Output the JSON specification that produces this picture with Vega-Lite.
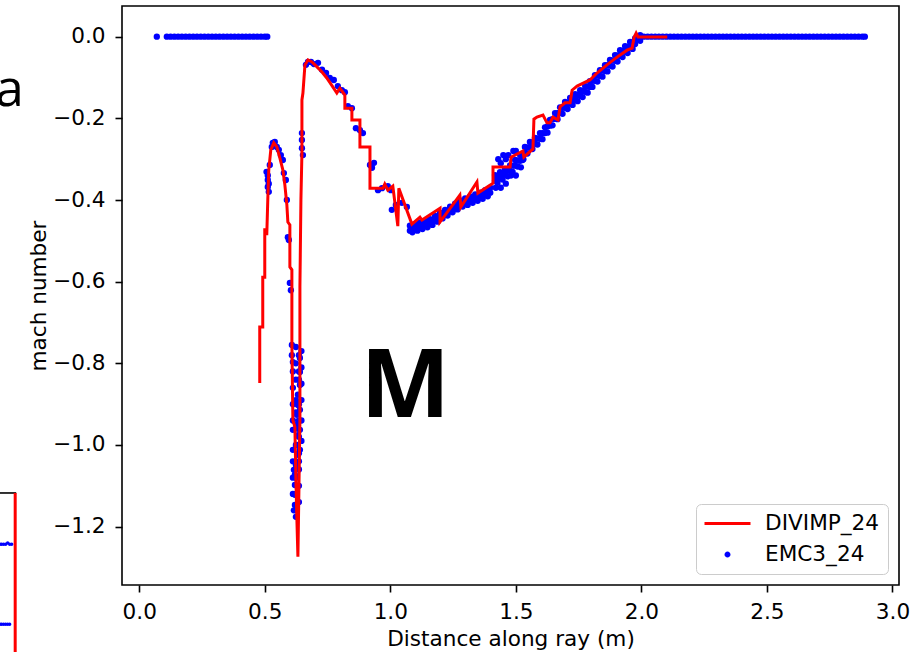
{
 "$schema": "https://vega.github.io/schema/vega-lite/v6.json",
 "width": 777, "height": 579,
 "autosize": {"type": "none"},
 "padding": {"left": 122, "top": 6, "right": 18, "bottom": 67},
 "background": "white",
 "config": {"view": {"stroke": "#000000", "strokeWidth": 1.6}, "font": "DejaVu Sans"},
 "datasets": {
  "emc3": [
   {"x":0.07,"y":0},{"x":0.11,"y":0},{"x":0.125,"y":0},{"x":0.14,"y":0},{"x":0.155,"y":0},{"x":0.17,"y":0},{"x":0.185,"y":0},{"x":0.2,"y":0},{"x":0.215,"y":0},{"x":0.23,"y":0},{"x":0.245,"y":0},{"x":0.26,"y":0},{"x":0.275,"y":0},{"x":0.29,"y":0},{"x":0.305,"y":0},{"x":0.32,"y":0},{"x":0.335,"y":0},{"x":0.35,"y":0},{"x":0.365,"y":0},{"x":0.38,"y":0},{"x":0.395,"y":0},{"x":0.41,"y":0},{"x":0.425,"y":0},{"x":0.44,"y":0},{"x":0.455,"y":0},{"x":0.47,"y":0},{"x":0.485,"y":0},{"x":0.5,"y":0},{"x":0.51,"y":0},
   {"x":0.507,"y":-0.331},{"x":0.512,"y":-0.34},{"x":0.512,"y":-0.351},{"x":0.516,"y":-0.36},{"x":0.512,"y":-0.368},{"x":0.516,"y":-0.38},{"x":0.52,"y":-0.314},{"x":0.528,"y":-0.27},{"x":0.532,"y":-0.26},{"x":0.54,"y":-0.258},{"x":0.548,"y":-0.27},{"x":0.556,"y":-0.277},{"x":0.564,"y":-0.29},{"x":0.572,"y":-0.302},{"x":0.576,"y":-0.334},{"x":0.584,"y":-0.351},{"x":0.588,"y":-0.4},{"x":0.592,"y":-0.491},{"x":0.596,"y":-0.498},{"x":0.6,"y":-0.603},{"x":0.604,"y":-0.621},
   {"x":0.608,"y":-0.755},{"x":0.608,"y":-0.78},{"x":0.612,"y":-0.797},{"x":0.64,"y":-0.787},{"x":0.64,"y":-0.821},{"x":0.64,"y":-0.853},{"x":0.632,"y":-0.877},{"x":0.632,"y":-0.902},{"x":0.628,"y":-0.926},{"x":0.628,"y":-0.951},{"x":0.632,"y":-0.976},{"x":0.632,"y":-1.0},{"x":0.632,"y":-1.024},{"x":0.624,"y":-1.049},{"x":0.62,"y":-1.073},{"x":0.62,"y":-1.098},{"x":0.62,"y":-1.122},{"x":0.62,"y":-1.147},{"x":0.624,"y":-1.176},{"x":0.612,"y":-0.963},{"x":0.612,"y":-1.012},{"x":0.616,"y":-1.061},{"x":0.64,"y":-0.914},{"x":0.64,"y":-0.963},{"x":0.64,"y":-1.012},{"x":0.636,"y":-0.84},{"x":0.624,"y":-0.89},{"x":0.636,"y":-1.04},
   {"x":0.624,"y":-0.76},{"x":0.624,"y":-0.8},{"x":0.624,"y":-0.84},{"x":0.624,"y":-0.92},{"x":0.624,"y":-0.96},{"x":0.624,"y":-1.0},{"x":0.624,"y":-1.08},{"x":0.624,"y":-1.12},{"x":0.624,"y":-1.16},
   {"x":0.636,"y":-0.78},{"x":0.636,"y":-0.82},{"x":0.636,"y":-0.9},{"x":0.636,"y":-0.94},{"x":0.636,"y":-0.98},{"x":0.636,"y":-1.02},{"x":0.636,"y":-1.06},{"x":0.636,"y":-1.1},{"x":0.636,"y":-1.14},
   {"x":0.612,"y":-0.82},{"x":0.612,"y":-0.86},{"x":0.612,"y":-0.9},{"x":0.612,"y":-0.94},{"x":0.612,"y":-1.04},{"x":0.612,"y":-1.08},{"x":0.612,"y":-1.12},{"x":0.616,"y":-1.16},
   {"x":0.646,"y":-0.77},{"x":0.646,"y":-0.81},{"x":0.646,"y":-0.85},{"x":0.646,"y":-0.89},{"x":0.646,"y":-0.94},{"x":0.646,"y":-0.99},
   {"x":0.648,"y":-0.236},{"x":0.648,"y":-0.253},{"x":0.648,"y":-0.273},{"x":0.652,"y":-0.29},
   {"x":0.664,"y":-0.069},{"x":0.672,"y":-0.062},{"x":0.684,"y":-0.062},{"x":0.696,"y":-0.067},{"x":0.712,"y":-0.064},{"x":0.728,"y":-0.081},{"x":0.744,"y":-0.089},{"x":0.759,"y":-0.101},{"x":0.775,"y":-0.106},{"x":0.791,"y":-0.121},{"x":0.807,"y":-0.131},{"x":0.819,"y":-0.136},{"x":0.831,"y":-0.17},{"x":0.847,"y":-0.175},{"x":0.863,"y":-0.224},{"x":0.879,"y":-0.229},{"x":0.891,"y":-0.236},{"x":0.919,"y":-0.314},{"x":0.927,"y":-0.321},{"x":0.935,"y":-0.309},{"x":0.951,"y":-0.376},{"x":0.967,"y":-0.371},{"x":0.99,"y":-0.366},{"x":1.002,"y":-0.376},{"x":1.006,"y":-0.424},{"x":1.022,"y":-0.412},{"x":1.046,"y":-0.407},{"x":1.066,"y":-0.417},
   {"x":1.078,"y":-0.463},{"x":1.098,"y":-0.459},{"x":1.118,"y":-0.455},{"x":1.138,"y":-0.451},{"x":1.158,"y":-0.447},{"x":1.178,"y":-0.439},{"x":1.198,"y":-0.431},{"x":1.218,"y":-0.424},{"x":1.238,"y":-0.416},{"x":1.258,"y":-0.409},{"x":1.278,"y":-0.401},{"x":1.298,"y":-0.396},{"x":1.318,"y":-0.391},{"x":1.338,"y":-0.386},{"x":1.358,"y":-0.382},{"x":1.378,"y":-0.376},{"x":1.398,"y":-0.37},
   {"x":1.088,"y":-0.467},{"x":1.108,"y":-0.463},{"x":1.128,"y":-0.459},{"x":1.148,"y":-0.455},{"x":1.168,"y":-0.449},{"x":1.188,"y":-0.441},{"x":1.208,"y":-0.433},{"x":1.228,"y":-0.426},{"x":1.248,"y":-0.418},{"x":1.268,"y":-0.411},{"x":1.288,"y":-0.404},{"x":1.308,"y":-0.4},{"x":1.328,"y":-0.395},{"x":1.348,"y":-0.39},{"x":1.368,"y":-0.385},{"x":1.388,"y":-0.379},
   {"x":1.078,"y":-0.475},{"x":1.098,"y":-0.471},{"x":1.118,"y":-0.467},{"x":1.138,"y":-0.463},{"x":1.158,"y":-0.459},{"x":1.178,"y":-0.451},{"x":1.198,"y":-0.443},{"x":1.218,"y":-0.436},{"x":1.238,"y":-0.428},{"x":1.258,"y":-0.421},{"x":1.278,"y":-0.413},{"x":1.298,"y":-0.408},{"x":1.318,"y":-0.403},{"x":1.338,"y":-0.398},{"x":1.358,"y":-0.394},{"x":1.378,"y":-0.388},{"x":1.398,"y":-0.382},
   {"x":1.088,"y":-0.479},{"x":1.108,"y":-0.475},{"x":1.128,"y":-0.471},{"x":1.148,"y":-0.467},{"x":1.168,"y":-0.461},{"x":1.188,"y":-0.453},{"x":1.208,"y":-0.445},{"x":1.228,"y":-0.438},{"x":1.248,"y":-0.43},{"x":1.268,"y":-0.423},{"x":1.288,"y":-0.416},{"x":1.308,"y":-0.412},{"x":1.328,"y":-0.407},{"x":1.348,"y":-0.402},{"x":1.368,"y":-0.397},{"x":1.388,"y":-0.391},
   {"x":1.417,"y":-0.339},{"x":1.437,"y":-0.332},{"x":1.457,"y":-0.324},{"x":1.477,"y":-0.315},{"x":1.497,"y":-0.302},{"x":1.517,"y":-0.29},{"x":1.536,"y":-0.27},{"x":1.556,"y":-0.258},{"x":1.576,"y":-0.248},{"x":1.596,"y":-0.236},{"x":1.616,"y":-0.222},{"x":1.636,"y":-0.204},{"x":1.656,"y":-0.187},{"x":1.676,"y":-0.173},{"x":1.696,"y":-0.16},{"x":1.716,"y":-0.15},{"x":1.736,"y":-0.141},{"x":1.756,"y":-0.131},{"x":1.776,"y":-0.121},{"x":1.795,"y":-0.109},{"x":1.815,"y":-0.094},{"x":1.835,"y":-0.082},{"x":1.855,"y":-0.07},{"x":1.875,"y":-0.057},{"x":1.895,"y":-0.045},{"x":1.915,"y":-0.033},{"x":1.935,"y":-0.023},{"x":1.955,"y":-0.013},{"x":1.975,"y":-0.004},{"x":1.995,"y":0.004},
   {"x":1.427,"y":-0.343},{"x":1.447,"y":-0.335},{"x":1.467,"y":-0.327},{"x":1.487,"y":-0.316},{"x":1.507,"y":-0.303},{"x":1.527,"y":-0.287},{"x":1.546,"y":-0.271},{"x":1.566,"y":-0.26},{"x":1.586,"y":-0.249},{"x":1.606,"y":-0.236},{"x":1.626,"y":-0.22},{"x":1.646,"y":-0.202},{"x":1.666,"y":-0.187},{"x":1.686,"y":-0.174},{"x":1.706,"y":-0.162},{"x":1.726,"y":-0.152},{"x":1.746,"y":-0.143},{"x":1.766,"y":-0.133},{"x":1.786,"y":-0.122},{"x":1.805,"y":-0.108},{"x":1.825,"y":-0.095},{"x":1.845,"y":-0.083},{"x":1.865,"y":-0.07},{"x":1.885,"y":-0.058},{"x":1.905,"y":-0.046},{"x":1.925,"y":-0.035},{"x":1.945,"y":-0.025},{"x":1.965,"y":-0.016},{"x":1.985,"y":-0.007},
   {"x":1.417,"y":-0.353},{"x":1.437,"y":-0.346},{"x":1.457,"y":-0.338},{"x":1.477,"y":-0.329},{"x":1.497,"y":-0.316},{"x":1.517,"y":-0.304},{"x":1.536,"y":-0.284},{"x":1.556,"y":-0.272},{"x":1.576,"y":-0.262},{"x":1.596,"y":-0.25},{"x":1.616,"y":-0.236},{"x":1.636,"y":-0.218},{"x":1.656,"y":-0.201},{"x":1.676,"y":-0.187},{"x":1.696,"y":-0.174},{"x":1.716,"y":-0.164},{"x":1.736,"y":-0.155},{"x":1.756,"y":-0.145},{"x":1.776,"y":-0.135},{"x":1.795,"y":-0.123},{"x":1.815,"y":-0.108},{"x":1.835,"y":-0.096},{"x":1.855,"y":-0.084},{"x":1.875,"y":-0.071},{"x":1.895,"y":-0.059},{"x":1.915,"y":-0.047},{"x":1.935,"y":-0.037},{"x":1.955,"y":-0.027},{"x":1.975,"y":-0.018},{"x":1.995,"y":-0.01},
   {"x":1.427,"y":-0.358},{"x":1.447,"y":-0.35},{"x":1.467,"y":-0.342},{"x":1.487,"y":-0.331},{"x":1.507,"y":-0.318},{"x":1.527,"y":-0.302},{"x":1.546,"y":-0.286},{"x":1.566,"y":-0.275},{"x":1.586,"y":-0.264},{"x":1.606,"y":-0.251},{"x":1.626,"y":-0.235},{"x":1.646,"y":-0.217},{"x":1.666,"y":-0.202},{"x":1.686,"y":-0.189},{"x":1.706,"y":-0.177},{"x":1.726,"y":-0.167},{"x":1.746,"y":-0.158},{"x":1.766,"y":-0.148},{"x":1.786,"y":-0.137},{"x":1.805,"y":-0.123},{"x":1.825,"y":-0.11},{"x":1.845,"y":-0.098},{"x":1.865,"y":-0.085},{"x":1.885,"y":-0.073},{"x":1.905,"y":-0.061},{"x":1.925,"y":-0.05},{"x":1.945,"y":-0.04},{"x":1.965,"y":-0.03},
   {"x":1.43,"y":-0.3},{"x":1.45,"y":-0.29},{"x":1.47,"y":-0.29},{"x":1.49,"y":-0.28},{"x":1.44,"y":-0.37},{"x":1.46,"y":-0.36},{"x":1.5,"y":-0.34},{"x":1.42,"y":-0.37},{"x":1.44,"y":-0.31},{"x":1.48,"y":-0.34},{"x":1.52,"y":-0.32},{"x":1.5,"y":-0.28},{"x":1.53,"y":-0.3},{"x":1.46,"y":-0.3},
   {"x":2.01,"y":0},{"x":2.025,"y":0},{"x":2.04,"y":0},{"x":2.055,"y":0},{"x":2.07,"y":0},{"x":2.085,"y":0},{"x":2.1,"y":0},{"x":2.115,"y":0},{"x":2.13,"y":0},{"x":2.145,"y":0},{"x":2.16,"y":0},{"x":2.175,"y":0},{"x":2.19,"y":0},{"x":2.205,"y":0},{"x":2.22,"y":0},{"x":2.235,"y":0},{"x":2.25,"y":0},{"x":2.265,"y":0},{"x":2.28,"y":0},{"x":2.295,"y":0},{"x":2.31,"y":0},{"x":2.325,"y":0},{"x":2.34,"y":0},{"x":2.355,"y":0},{"x":2.37,"y":0},{"x":2.385,"y":0},{"x":2.4,"y":0},{"x":2.415,"y":0},{"x":2.43,"y":0},{"x":2.445,"y":0},{"x":2.46,"y":0},{"x":2.475,"y":0},{"x":2.49,"y":0},{"x":2.505,"y":0},{"x":2.52,"y":0},{"x":2.535,"y":0},{"x":2.55,"y":0},{"x":2.565,"y":0},{"x":2.58,"y":0},{"x":2.595,"y":0},{"x":2.61,"y":0},{"x":2.625,"y":0},{"x":2.64,"y":0},{"x":2.655,"y":0},{"x":2.67,"y":0},{"x":2.685,"y":0},{"x":2.7,"y":0},{"x":2.715,"y":0},{"x":2.73,"y":0},{"x":2.745,"y":0},{"x":2.76,"y":0},{"x":2.775,"y":0},{"x":2.79,"y":0},{"x":2.805,"y":0},{"x":2.82,"y":0},{"x":2.835,"y":0},{"x":2.85,"y":0},{"x":2.865,"y":0},{"x":2.88,"y":0},{"x":2.89,"y":0}
  ],
  "divimp": [
   {"i":1,"x":0.48,"y":-0.848},{"i":2,"x":0.48,"y":-0.711},{"i":3,"x":0.492,"y":-0.711},{"i":4,"x":0.492,"y":-0.589},{"i":5,"x":0.5,"y":-0.589},{"i":6,"x":0.5,"y":-0.473},{"i":7,"x":0.508,"y":-0.473},{"i":8,"x":0.508,"y":-0.486},{"i":9,"x":0.512,"y":-0.4},{"i":10,"x":0.516,"y":-0.326},{"i":11,"x":0.524,"y":-0.277},{"i":12,"x":0.536,"y":-0.26},{"i":13,"x":0.548,"y":-0.27},{"i":14,"x":0.56,"y":-0.297},{"i":15,"x":0.572,"y":-0.326},{"i":16,"x":0.58,"y":-0.363},{"i":17,"x":0.588,"y":-0.412},{"i":18,"x":0.592,"y":-0.454},{"i":19,"x":0.6,"y":-0.461},{"i":20,"x":0.6,"y":-0.564},{"i":21,"x":0.608,"y":-0.571},{"i":22,"x":0.608,"y":-0.75},{"i":23,"x":0.612,"y":-0.939},{"i":24,"x":0.62,"y":-0.956},{"i":25,"x":0.624,"y":-1.086},{"i":26,"x":0.628,"y":-1.184},{"i":27,"x":0.632,"y":-1.274},{"i":28,"x":0.636,"y":-1.11},{"i":29,"x":0.64,"y":-0.939},{"i":30,"x":0.64,"y":-0.613},{"i":31,"x":0.644,"y":-0.4},{"i":32,"x":0.648,"y":-0.285},{"i":33,"x":0.648,"y":-0.155},{"i":34,"x":0.652,"y":-0.138},{"i":35,"x":0.66,"y":-0.069},{"i":36,"x":0.672,"y":-0.057},{"i":37,"x":0.688,"y":-0.062},{"i":38,"x":0.708,"y":-0.074},{"i":39,"x":0.727,"y":-0.086},{"i":40,"x":0.747,"y":-0.101},{"i":41,"x":0.771,"y":-0.123},{"i":42,"x":0.787,"y":-0.138},{"i":43,"x":0.799,"y":-0.126},{"i":44,"x":0.819,"y":-0.143},{"i":45,"x":0.819,"y":-0.175},{"i":46,"x":0.847,"y":-0.175},{"i":47,"x":0.847,"y":-0.204},{"i":48,"x":0.879,"y":-0.204},{"i":49,"x":0.879,"y":-0.27},{"i":50,"x":0.919,"y":-0.27},{"i":51,"x":0.919,"y":-0.371},{"i":52,"x":0.971,"y":-0.371},{"i":53,"x":0.978,"y":-0.361},{"i":54,"x":0.99,"y":-0.376},{"i":55,"x":1.01,"y":-0.366},{"i":56,"x":1.03,"y":-0.464},{"i":57,"x":1.034,"y":-0.371},{"i":58,"x":1.086,"y":-0.459},{"i":59,"x":1.118,"y":-0.442},{"i":60,"x":1.126,"y":-0.449},{"i":61,"x":1.198,"y":-0.42},{"i":62,"x":1.198,"y":-0.454},{"i":63,"x":1.277,"y":-0.388},{"i":64,"x":1.281,"y":-0.417},{"i":65,"x":1.345,"y":-0.356},{"i":66,"x":1.349,"y":-0.383},{"i":67,"x":1.409,"y":-0.359},{"i":68,"x":1.409,"y":-0.319},{"i":69,"x":1.477,"y":-0.319},{"i":70,"x":1.481,"y":-0.295},{"i":71,"x":1.528,"y":-0.28},{"i":72,"x":1.532,"y":-0.295},{"i":73,"x":1.568,"y":-0.275},{"i":74,"x":1.572,"y":-0.202},{"i":75,"x":1.584,"y":-0.197},{"i":76,"x":1.608,"y":-0.192},{"i":77,"x":1.624,"y":-0.211},{"i":78,"x":1.636,"y":-0.211},{"i":79,"x":1.648,"y":-0.197},{"i":80,"x":1.668,"y":-0.204},{"i":81,"x":1.676,"y":-0.172},{"i":82,"x":1.696,"y":-0.162},{"i":83,"x":1.716,"y":-0.162},{"i":84,"x":1.724,"y":-0.131},{"i":85,"x":1.744,"y":-0.121},{"i":86,"x":1.795,"y":-0.106},{"i":87,"x":1.823,"y":-0.089},{"i":88,"x":1.863,"y":-0.069},{"i":89,"x":1.903,"y":-0.05},{"i":90,"x":1.943,"y":-0.033},{"i":91,"x":1.963,"y":-0.028},{"i":92,"x":1.971,"y":-0.001},{"i":93,"x":1.979,"y":0.009},{"i":94,"x":1.987,"y":-0.001},{"i":95,"x":2.103,"y":-0.001}
  ],
  "fragpts": [
   {"x":-0.556,"y":-1.243},{"x":-0.548,"y":-1.243},{"x":-0.54,"y":-1.243},{"x":-0.532,"y":-1.243},{"x":-0.524,"y":-1.24},{"x":-0.516,"y":-1.243},{"x":-0.508,"y":-1.243},
   {"x":-0.556,"y":-1.439},{"x":-0.548,"y":-1.439},{"x":-0.54,"y":-1.439},{"x":-0.532,"y":-1.439},{"x":-0.524,"y":-1.439},{"x":-0.516,"y":-1.439}
  ]
 },
 "layer": [
  {
   "data": {"name": "emc3"},
   "mark": {"type": "circle", "size": 40, "opacity": 1},
   "encoding": {
    "x": {"field": "x", "type": "quantitative",
     "scale": {"domain": [-0.0686, 3.026], "nice": false, "zero": false},
     "axis": {"values": [0, 0.5, 1, 1.5, 2, 2.5, 3], "format": ".1f", "title": "Distance along ray (m)", "grid": false, "domain": false,
      "tickSize": 7, "tickWidth": 1.6, "tickColor": "#000000", "labelFontSize": 21.6, "labelFont": "DejaVu Sans", "labelColor": "#000000", "labelPadding": 9,
      "labelFlush": false, "labelOverlap": false,
      "titleFont": "DejaVu Sans", "titleFontSize": 21.6, "titleFontWeight": "normal", "titleColor": "#000000", "titleBaseline": "alphabetic", "titleY": 60}},
    "y": {"field": "y", "type": "quantitative",
     "scale": {"domain": [-1.343, 0.0752], "nice": false, "zero": false},
     "axis": {"values": [-1.2, -1.0, -0.8, -0.6, -0.4, -0.2, 0], "format": ".1f", "title": "mach number", "grid": false, "domain": false,
      "tickSize": 7, "tickWidth": 1.6, "tickColor": "#000000", "labelFontSize": 21.6, "labelFont": "DejaVu Sans", "labelColor": "#000000", "labelPadding": 10,
      "labelFlush": false, "labelOverlap": false,
      "titleFont": "DejaVu Sans", "titleFontSize": 21.6, "titleFontWeight": "normal", "titleColor": "#000000", "titleBaseline": "alphabetic", "titleAngle": -90, "titleX": -77, "titleY": 289.5}},
    "color": {"datum": "EMC3_24", "type": "nominal",
     "scale": {"domain": ["DIVIMP_24", "EMC3_24"], "range": ["#ff0000", "#0000ff"]},
     "legend": {"title": null, "orient": "bottom-right", "offset": 11, "padding": 8, "strokeColor": "#cccccc", "cornerRadius": 5, "fillColor": "#ffffff",
      "labelFontSize": 21.6, "labelFont": "DejaVu Sans", "labelColor": "#000000", "symbolSize": 400, "symbolStrokeWidth": 3, "symbolOffset": 12, "labelOffset": 26, "rowPadding": 8,
      "encode": {"legend": {"strokeWidth": {"value": 1.5}}}}}
   }
  },
  {
   "data": {"name": "divimp"},
   "mark": {"type": "line", "strokeWidth": 3},
   "encoding": {
    "x": {"field": "x", "type": "quantitative"},
    "y": {"field": "y", "type": "quantitative"},
    "order": {"field": "i", "type": "quantitative"},
    "color": {"datum": "DIVIMP_24", "type": "nominal"}
   }
  },
  {
   "data": {"values": []},
   "mark": {"type": "point", "filled": true, "opacity": 1},
   "encoding": {
    "shape": {"datum": "EMC3_24", "type": "nominal",
     "scale": {"domain": ["DIVIMP_24", "EMC3_24"], "range": ["M-2.3,0L2.3,0", "M-0.15,0A0.15,0.15,0,1,0,0.15,0A0.15,0.15,0,1,0,-0.15,0Z"]},
     "legend": {"title": null, "orient": "bottom-right", "offset": 11, "padding": 8, "strokeColor": "#cccccc", "cornerRadius": 5, "fillColor": "#ffffff",
      "labelFontSize": 21.6, "labelFont": "DejaVu Sans", "labelColor": "#000000", "symbolSize": 400, "symbolStrokeWidth": 3, "symbolOffset": 12, "labelOffset": 26, "rowPadding": 8,
      "encode": {"legend": {"strokeWidth": {"value": 1.5}}}}},
    "color": {"datum": "EMC3_24", "type": "nominal"}
   }
  },
  {
   "data": {"values": [{"x": 1.06, "y": -0.9314, "label": "M"}]},
   "mark": {"type": "text", "font": "Open Sans", "fontWeight": "bold", "fontSize": 95, "align": "center", "baseline": "alphabetic", "color": "#000000"},
   "encoding": {"x": {"field": "x", "type": "quantitative"}, "y": {"field": "y", "type": "quantitative"}, "text": {"field": "label"}}
  },
  {
   "data": {"values": [{"x": -0.459, "y": -0.169, "label": "a"}]},
   "mark": {"type": "text", "font": "Open Sans", "fontSize": 52, "align": "right", "baseline": "alphabetic", "color": "#000000"},
   "encoding": {"x": {"field": "x", "type": "quantitative"}, "y": {"field": "y", "type": "quantitative"}, "text": {"field": "label"}}
  },
  {
   "data": {"values": [{"x": -0.56, "x2": -0.49, "y": -1.1176}]},
   "mark": {"type": "rule", "color": "#000000", "strokeWidth": 1.6},
   "encoding": {"x": {"field": "x", "type": "quantitative"}, "x2": {"field": "x2"}, "y": {"field": "y", "type": "quantitative"}}
  },
  {
   "data": {"name": "fragpts"},
   "mark": {"type": "circle", "size": 12, "opacity": 1, "color": "#0000ff"},
   "encoding": {"x": {"field": "x", "type": "quantitative"}, "y": {"field": "y", "type": "quantitative"}}
  },
  {
   "data": {"values": [{"x": -0.494, "y": -1.1176, "y2": -1.52}]},
   "mark": {"type": "rule", "color": "#ff0000", "strokeWidth": 3},
   "encoding": {"x": {"field": "x", "type": "quantitative"}, "y": {"field": "y", "type": "quantitative"}, "y2": {"field": "y2"}}
  }
 ]
}
